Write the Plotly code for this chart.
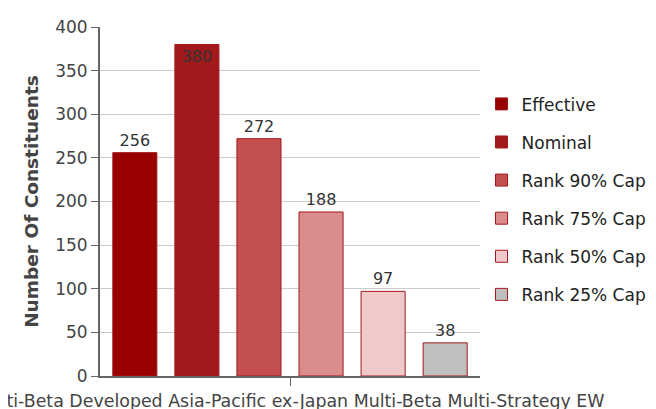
import plotly.graph_objects as go

category = ["Multi-Beta Developed Asia-Pacific ex-Japan Multi-Beta Multi-Strategy EW"]
series = ["Effective", "Nominal", "Rank 90% Cap", "Rank 75% Cap", "Rank 50% Cap", "Rank 25% Cap"]
counts = [256, 380, 272, 188, 97, 38]
colors = ["#990000", "#A2191C", "#C44F4F", "#DB8C8C", "#F0CACA", "#BFBFBF"]

fig = go.Figure()
for i, (name, val, col) in enumerate(zip(series, counts, colors)):
    fig.add_trace(go.Bar(
        x=category, y=[val], name=name, legendgroup=name,
        marker=dict(color=col, line=dict(color="#A2191C", width=1)),
        text=[str(val)],
        textposition="inside" if name == "Nominal" else "outside",
        insidetextanchor="end",
        textfont=dict(size=16, color="#333333"),
        cliponaxis=False,
    ))

# page body adds an 8px offset, margins compensate for it
fig.update_layout(
    width=656, height=409,
    margin=dict(l=92, r=184, t=19, b=41),
    paper_bgcolor="white", plot_bgcolor="white",
    font=dict(family="DejaVu Sans", size=17, color="#444444"),
    barmode="group", bargap=0.02, bargroupgap=0.29,
    showlegend=True,
    legend=dict(x=1.004, y=0.83, xanchor="left", yanchor="top",
                font=dict(size=17, color="#222222"), tracegroupgap=13,
                bgcolor="rgba(0,0,0,0)"),
    xaxis=dict(showline=True, linecolor="#666666", linewidth=2, automargin=False,
               ticks="outside", ticklen=8, tickcolor="#666666",
               tickfont=dict(size=17.4, color="#444444")),
    yaxis=dict(range=[0, 400], dtick=50, showline=True, linecolor="#666666", linewidth=2,
               automargin=False,
               ticks="outside", ticklen=7, tickcolor="#666666",
               showgrid=True, gridcolor="#cccccc", gridwidth=1, zeroline=False,
               tickfont=dict(size=17, color="#444444"),
               title=dict(text="<b>Number Of Constituents</b>", standoff=12,
                          font=dict(size=18.5, color="#444444"))),
)

fig.write_html("out.html")
